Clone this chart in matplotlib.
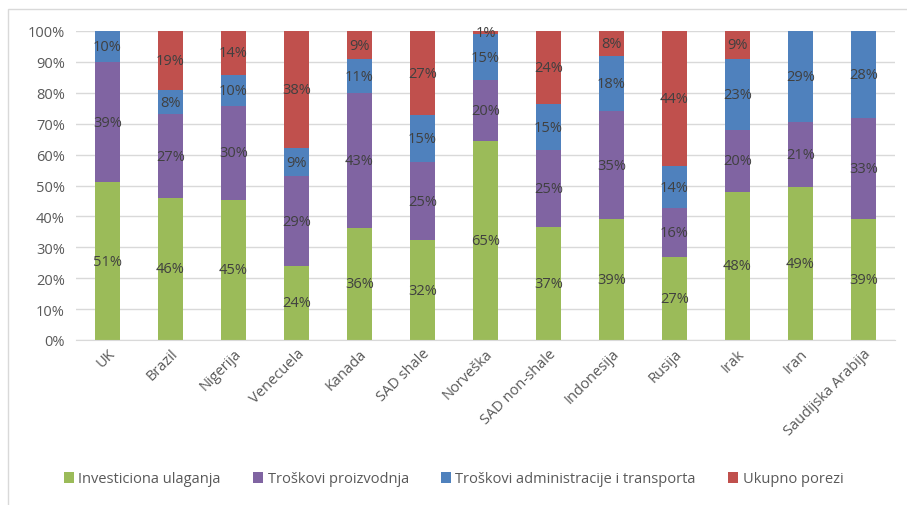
import matplotlib
matplotlib.use("Agg")
import matplotlib.pyplot as plt
from matplotlib.patches import Rectangle
import numpy as np

plt.rcParams['font.family'] = ['Open Sans', 'DejaVu Sans']

countries = ["UK", "Brazil", "Nigerija", "Venecuela", "Kanada", "SAD shale", "Norveška",
             "SAD non-shale", "Indonesija", "Rusija", "Irak", "Iran", "Saudijska Arabija"]
investiciona = [51, 46, 45, 24, 36, 32, 65, 37, 39, 27, 48, 49, 39]
proizvodnja = [39, 27, 30, 29, 43, 25, 20, 25, 35, 16, 20, 21, 33]
administracija = [10, 8, 10, 9, 11, 15, 15, 15, 18, 14, 23, 29, 28]
porezi = [0, 19, 14, 38, 9, 27, 1, 24, 8, 44, 9, 0, 0]

series = [
    ("Investiciona ulaganja", investiciona, "#9BBB59"),
    ("Troškovi proizvodnja", proizvodnja, "#8064A2"),
    ("Troškovi administracije i transporta", administracija, "#4F81BD"),
    ("Ukupno porezi", porezi, "#C0504D"),
]

fig = plt.figure(figsize=(9.07, 5.06), dpi=100)
fig.patches.append(Rectangle((8 / 907, -0.05), 1.2, 1 - 10 / 506 + 0.05, transform=fig.transFigure,
                             fill=False, edgecolor="#D9D9D9", linewidth=1.0))
ax = fig.add_axes([76 / 907, 1 - 341 / 506, (895 - 76) / 907, (341 - 32) / 506])

x = np.arange(len(countries))
# 100% stacked: each column is scaled to its own total
totals = np.sum([np.array(v, dtype=float) for _, v, _ in series], axis=0)
bottom = np.zeros(len(countries))
for name, vals, color in series:
    vals = np.array(vals, dtype=float)
    heights = vals / totals * 100
    ax.bar(x, heights, 0.4, bottom=bottom, color=color, label=name, zorder=2)
    for xi, b, h, v in zip(x, bottom, heights, vals):
        if v > 0:
            ax.text(xi, b + h / 2, f"{int(v)}%", ha="center", va="center", fontsize=10.5,
                    color="#404040", zorder=3)
    bottom += heights

ax.set_xlim(-0.5, len(countries) - 0.5)
ax.set_ylim(0, 100)
ax.set_yticks(np.arange(0, 101, 10))
ax.set_yticklabels([f"{v}%" for v in range(0, 101, 10)], fontsize=10.5, color="#595959")
ax.yaxis.grid(True, color="#D9D9D9", linewidth=1.0, zorder=0)
ax.set_axisbelow(True)
for s in ["top", "right", "left"]:
    ax.spines[s].set_visible(False)
ax.spines["bottom"].set_color("#D9D9D9")
ax.tick_params(axis="y", length=0, pad=8)
ax.tick_params(axis="x", length=0, pad=4)
ax.set_xticks(x)
ax.set_xticklabels(countries, rotation=45, ha="right", rotation_mode="anchor",
                   fontsize=10.5, color="#595959")

handles, labels = ax.get_legend_handles_labels()
fig.legend(handles, labels, loc="center", bbox_to_anchor=(0.5, 1 - 480 / 506), ncol=4,
           frameon=False, fontsize=10.5, labelcolor="#595959", handlelength=0.7,
           handleheight=0.7, handletextpad=0.3, columnspacing=2.2)

fig.savefig("out.png", dpi=100)
